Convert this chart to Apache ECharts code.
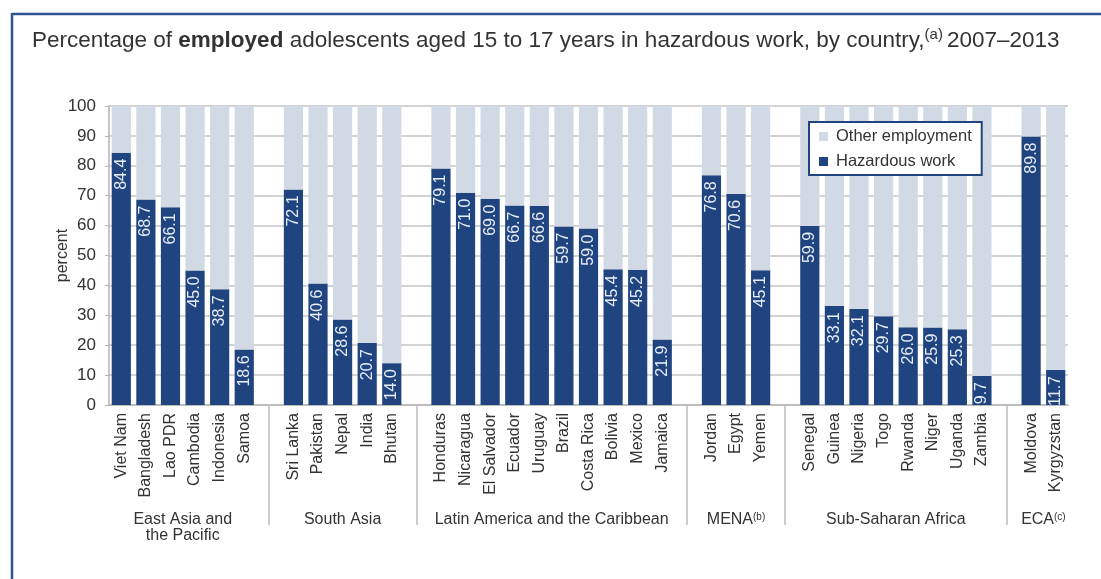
<!DOCTYPE html>
<html><head><meta charset="utf-8">
<script src="https://cdn.jsdelivr.net/npm/echarts@6/dist/echarts.min.js"></script>
<style>html,body{margin:0;padding:0;background:#fff}#c{width:1101px;height:579px}</style>
</head><body><div id="c"></div>
<script>
// ---- data ----
const eapCountries = ['Viet Nam','Bangladesh','Lao PDR','Cambodia','Indonesia','Samoa'];
const eapValues    = [84.4, 68.7, 66.1, 45.0, 38.7, 18.6];
const saCountries  = ['Sri Lanka','Pakistan','Nepal','India','Bhutan'];
const saValues     = [72.1, 40.6, 28.6, 20.7, 14.0];
const lacCountries = ['Honduras','Nicaragua','El Salvador','Ecuador','Uruguay','Brazil','Costa Rica','Bolivia','Mexico','Jamaica'];
const lacValues    = [79.1, 71.0, 69.0, 66.7, 66.6, 59.7, 59.0, 45.4, 45.2, 21.9];
const menaCountries = ['Jordan','Egypt','Yemen'];
const menaValues    = [76.8, 70.6, 45.1];
const ssaCountries = ['Senegal','Guinea','Nigeria','Togo','Rwanda','Niger','Uganda','Zambia'];
const ssaValues    = [59.9, 33.1, 32.1, 29.7, 26.0, 25.9, 25.3, 9.7];
const ecaCountries = ['Moldova','Kyrgyzstan'];
const ecaValues    = [89.8, 11.7];
const groupLabels  = ['East Asia and\nthe Pacific','South Asia','Latin America and the Caribbean','MENA{sup|(b)}','Sub-Saharan Africa','ECA{sup|(c)}'];
const yTicks = [0,10,20,30,40,50,60,70,80,90,100];

const groupCountries = [eapCountries, saCountries, lacCountries, menaCountries, ssaCountries, ecaCountries];
const groupValues = [eapValues, saValues, lacValues, menaValues, ssaValues, ecaValues];

// ---- build flat arrays with spacer slots between groups ----
const categories = [], hazard = [], other = [], spacers = [], ranges = [];
groupCountries.forEach((cs, g) => {
  if (g > 0) { spacers.push(categories.length); categories.push(' '.repeat(g)); hazard.push(null); other.push(null); }
  const start = categories.length;
  cs.forEach((c, i) => {
    categories.push(c);
    hazard.push(groupValues[g][i]);
    other.push(Math.round((100 - groupValues[g][i]) * 10) / 10);
  });
  ranges.push([start, categories.length - 1]);
});

const DARK = '#1f4480', LIGHT = '#d1d9e4', TXT = '#333333', GRID = '#c4c4c4', FONT = 'Liberation Sans';

const chart = echarts.init(document.getElementById('c'));
const option = {
  animation: false,
  textStyle: { fontFamily: FONT },
  title: {
    text: 'Percentage of {b|employed} adolescents aged 15 to 17 years in hazardous work, by country,{sup|(a)}2007\u20132013',
    left: 27, top: 22,
    textStyle: {
      fontFamily: FONT, fontSize: 22.5, fontWeight: 'normal', color: TXT, lineHeight: 27,
      rich: {
        b: { fontFamily: FONT, fontSize: 22.5, fontWeight: 'bold', color: TXT, lineHeight: 27 },
        sup: { fontFamily: FONT, fontSize: 15, color: TXT, verticalAlign: 'top', lineHeight: 27, padding: [0, 4, 0, 0] }
      }
    }
  },
  legend: {
    orient: 'vertical', left: 809, top: 122,
    data: ['Other employment', 'Hazardous work'],
    icon: 'rect', itemWidth: 9, itemHeight: 9, itemGap: 8,
    padding: [6, 10, 5, 10],
    backgroundColor: '#fff', borderColor: DARK, borderWidth: 2,
    textStyle: { fontFamily: FONT, fontSize: 16.5, color: TXT, padding: [0, 0, 0, 3] }
  },
  grid: { left: 109, right: 33, top: 106, bottom: 174, containLabel: false },
  xAxis: {
    type: 'category', data: categories,
    axisLine: { lineStyle: { color: '#b5b5b5', width: 1.5 } },
    axisTick: {
      show: true, alignWithLabel: true, length: 120,
      interval: (idx) => spacers.indexOf(idx) >= 0,
      lineStyle: { color: '#bdbdbd', width: 1.5 }
    },
    axisLabel: { interval: 0, rotate: 90, margin: 8, fontFamily: FONT, fontSize: 16, color: TXT }
  },
  yAxis: {
    type: 'value', min: yTicks[0], max: yTicks[yTicks.length - 1], interval: 10,
    name: 'percent', nameLocation: 'middle', nameGap: 38, nameMoveOverlap: false,
    nameTextStyle: { fontFamily: FONT, fontSize: 16, color: TXT },
    axisLine: { show: true, lineStyle: { color: '#b5b5b5', width: 1.5 } },
    axisTick: { show: true, length: 4, lineStyle: { color: '#b5b5b5' } },
    axisLabel: { margin: 13, fontFamily: FONT, fontSize: 17, color: TXT },
    splitLine: { lineStyle: { color: GRID, width: 1.5 } }
  },
  series: [
    {
      name: 'Hazardous work', type: 'bar', stack: 'all', data: hazard,
      barCategoryGap: '22%',
      itemStyle: { color: DARK },
      label: {
        show: true, position: 'insideTop', rotate: 90, align: 'right', verticalAlign: 'middle',
        distance: 6, fontFamily: FONT, fontSize: 16, color: '#e8edf5',
        formatter: (p) => p.value == null ? '' : Number(p.value).toFixed(1)
      }
    },
    {
      name: 'Other employment', type: 'bar', stack: 'all', data: other,
      barCategoryGap: '22%',
      itemStyle: { color: LIGHT }
    }
  ]
};
chart.setOption(option);

// group labels and frame, positioned through the axis scales
const yBase = chart.convertToPixel({ yAxisIndex: 0 }, 0);
const graphics = ranges.map((r, g) => {
  const x0 = chart.convertToPixel({ xAxisIndex: 0 }, r[0]);
  const x1 = chart.convertToPixel({ xAxisIndex: 0 }, r[1]);
  return {
    type: 'text', x: (x0 + x1) / 2, y: yBase + 107,
    style: {
      text: groupLabels[g], fill: TXT, font: '16px "' + FONT + '"',
      textAlign: 'center', textVerticalAlign: 'top', lineHeight: 16,
      rich: { sup: { fontSize: 10, fontFamily: FONT, fill: TXT, verticalAlign: 'top', lineHeight: 16 } }
    }
  };
});
graphics.push({ type: 'line', shape: { x1: 12, y1: 14, x2: 1101, y2: 14 }, style: { stroke: '#2e5393', lineWidth: 2.5 } });
graphics.push({ type: 'line', shape: { x1: 12, y1: 13, x2: 12, y2: 579 }, style: { stroke: '#2e5393', lineWidth: 2.5 } });
chart.setOption({ graphic: graphics });
</script>
</body></html>
